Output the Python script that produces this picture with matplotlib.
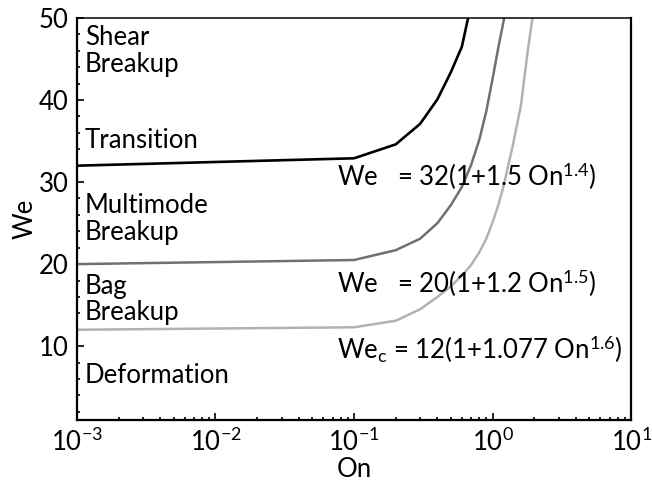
import numpy as np
import matplotlib
matplotlib.use('Agg')
import matplotlib.pyplot as plt
from matplotlib.ticker import LogLocator, MultipleLocator, NullFormatter

plt.rcParams['font.family'] = ['Lato', 'DejaVu Sans']
plt.rcParams['mathtext.fontset'] = 'custom'
plt.rcParams['mathtext.rm'] = 'Lato'
plt.rcParams['mathtext.it'] = 'Lato:italic'
plt.rcParams['mathtext.bf'] = 'Lato:bold'
plt.rcParams['axes.unicode_minus'] = False

FS = 18.5

# Critical Weber number curves versus Ohnesorge number
on_shear = [0.001, 0.1, 0.2, 0.3, 0.4, 0.5, 0.6, 0.7]
we_shear = [32.0, 32.9, 34.6, 37.1, 40.1, 43.4, 46.5, 51.7]

on_multi = [0.001, 0.1, 0.2, 0.3, 0.4, 0.5, 0.6, 0.7, 0.8, 0.9, 1.0, 1.1, 1.2, 1.3]
we_multi = [20.0, 20.5, 21.7, 23.1, 25.0, 27.2, 29.4, 32.1, 35.1, 38.6, 42.6, 46.4, 49.6, 53.0]

on_bag = [0.001, 0.1, 0.2, 0.3, 0.4, 0.5, 0.6, 0.7, 0.8, 0.9, 1.0, 1.1, 1.2, 1.4, 1.6, 1.8, 2.0]
we_bag = [12.0, 12.3, 13.1, 14.5, 16.0, 17.3, 18.6, 19.9, 21.4, 23.1, 25.1, 27.2, 29.5, 34.5, 39.3, 46.2, 51.6]

regions = [
    ("Shear", 46.7), ("Breakup", 43.4), ("Transition", 34.1),
    ("Multimode", 26.2), ("Breakup", 23.0), ("Bag", 16.4),
    ("Breakup", 13.2), ("Deformation", 5.5),
]
equations = [
    (r"We   = 32(1+1.5 On$^{\mathregular{1.4}}$)", 29.5),
    (r"We   = 20(1+1.2 On$^{\mathregular{1.5}}$)", 16.5),
    (r"We$_{\mathregular{c}}$ = 12(1+1.077 On$^{\mathregular{1.6}}$)", 8.4),
]

fig = plt.figure(figsize=(6.52, 4.87), dpi=100)
ax = fig.add_axes([0.118, 0.1376, 0.850, 0.8254])

ax.plot(on_shear, we_shear, color='black', lw=1.9, solid_joinstyle='miter')
ax.plot(on_multi, we_multi, color='#707070', lw=1.8)
ax.plot(on_bag, we_bag, color='#b2b2b2', lw=1.8)

ax.set_xscale('log')
ax.set_xlim(1e-3, 1e1)
ax.set_ylim(1, 50)

ax.xaxis.set_major_locator(LogLocator(base=10, numticks=10))
ax.xaxis.set_minor_locator(LogLocator(base=10, subs=np.arange(2, 10), numticks=20))
ax.xaxis.set_minor_formatter(NullFormatter())
ax.yaxis.set_major_locator(MultipleLocator(10))
ax.yaxis.set_minor_locator(MultipleLocator(2))

ax.tick_params(which='both', direction='in', labelsize=FS, width=1.2)
ax.tick_params(which='major', length=5)
ax.tick_params(which='minor', length=2.5)
ax.tick_params(axis='y', pad=6)
ax.tick_params(axis='x', pad=6)

for side in ['left', 'bottom', 'right']:
    ax.spines[side].set_linewidth(1.6)
ax.spines['top'].set_linewidth(1.1)

ax.set_xlabel("On", fontsize=FS, labelpad=0.5)
ax.set_ylabel("We", fontsize=FS, labelpad=1)

for label, y in regions:
    ax.text(1.14e-3, y, label, fontsize=FS, va='baseline', ha='left')

for label, y in equations:
    ax.text(0.0753, y, label, fontsize=FS, va='baseline', ha='left')

fig.savefig("out.png", dpi=100)
